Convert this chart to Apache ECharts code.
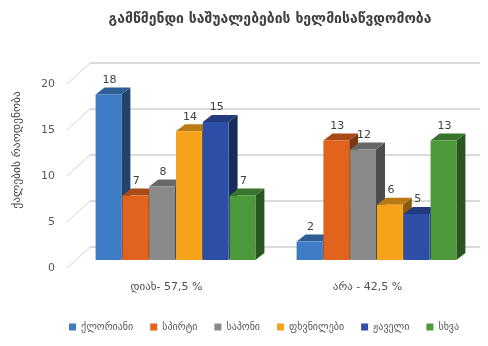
<!DOCTYPE html>
<html>
<head>
<meta charset="utf-8">
<script src="https://cdn.jsdelivr.net/npm/echarts@6/dist/echarts.min.js"></script>
<style>
  html, body { margin: 0; padding: 0; background: #ffffff; }
  #chart { width: 488px; height: 346px; }
</style>
</head>
<body>
<div id="chart"></div>
<script>
// Chart data
const titleText = 'გამწმენდი საშუალებების ხელმისაწვდომობა';
const yAxisTitle = 'ქალების რაოდენობა';
const categories = ['დიახ- 57,5 %', 'არა - 42,5 %'];
const seriesNames = ['ქლორიანი', 'სპირტი', 'საპონი', 'ფხვნილები', 'ჟაველი', 'სხვა'];
const chloreValues = [18, 2];
const spirtValues = [7, 13];
const saponValues = [8, 12];
const powderValues = [14, 6];
const javelValues = [15, 5];
const otherValues = [7, 13];
const yTicks = [0, 5, 10, 15, 20];

const allValues = [chloreValues, spirtValues, saponValues, powderValues, javelValues, otherValues];
const colors = ['#3e7cc6', '#e1631e', '#8a8a8a', '#f7a21b', '#2d4ea6', '#4c9a3c'];

const FONT = 'DejaVu Sans';
const DEPTH_X = 9, DEPTH_Y = -7;       // bar depth offset
const WALL_X = 15, WALL_Y = -13;       // back wall offset
const FRONT_X = -8, FRONT_Y = 8;       // front edge of the floor

function shade(hex, f) {
  const n = parseInt(hex.slice(1), 16);
  const r = Math.round(((n >> 16) & 255) * f);
  const g = Math.round(((n >> 8) & 255) * f);
  const b = Math.round((n & 255) * f);
  return 'rgb(' + r + ',' + g + ',' + b + ')';
}

function barRenderer(idx) {
  const n = allValues.length;
  return function (params, api) {
    const cat = api.value(0);
    const v = api.value(1);
    const base = api.coord([cat, 0]);
    const top = api.coord([cat, v]);
    const band = api.size([1, 0])[0];
    const bw = band * 0.8 / n;
    const x0 = base[0] - band * 0.4 + idx * bw + 0.5;
    const x1 = x0 + bw - 1;
    const yb = base[1], yt = top[1];
    const c = colors[idx];
    return {
      type: 'group',
      children: [
        {
          type: 'polygon',
          shape: { points: [[x1, yt], [x1 + DEPTH_X, yt + DEPTH_Y], [x1 + DEPTH_X, yb + DEPTH_Y], [x1, yb]] },
          style: { fill: shade(c, 0.55) }
        },
        {
          type: 'polygon',
          shape: { points: [[x0, yt], [x1, yt], [x1 + DEPTH_X, yt + DEPTH_Y], [x0 + DEPTH_X, yt + DEPTH_Y]] },
          style: { fill: shade(c, 0.75) }
        },
        {
          type: 'rect',
          shape: { x: x0, y: yt, width: x1 - x0, height: yb - yt },
          style: { fill: c }
        },
        {
          type: 'text',
          z2: 100,
          style: {
            x: (x0 + x1) / 2 + 1,
            y: yt + DEPTH_Y - 2,
            text: String(v),
            align: 'center',
            verticalAlign: 'bottom',
            fill: '#404040',
            font: '11px "' + FONT + '"'
          }
        }
      ]
    };
  };
}

// Back wall gridlines, the slanted lines to the front edge, and the tick labels
function wallRenderer(params, api) {
  const v = api.value(0);
  const y = api.coord([0, v])[1];
  const cs = params.coordSys;
  const left = cs.x, right = cs.x + cs.width;
  return {
    type: 'group',
    children: [
      {
        type: 'line',
        shape: { x1: left + FRONT_X, y1: y + FRONT_Y, x2: left + WALL_X, y2: y + WALL_Y },
        style: { stroke: '#d4d4d4', lineWidth: 1 }
      },
      {
        type: 'line',
        shape: { x1: left + WALL_X, y1: y + WALL_Y, x2: right + 3, y2: y + WALL_Y },
        style: { stroke: '#cfcfcf', lineWidth: 1.5 }
      },
      {
        type: 'text',
        style: {
          x: left + FRONT_X - 12,
          y: y + FRONT_Y,
          text: String(v),
          align: 'right',
          verticalAlign: 'middle',
          fill: '#595959',
          font: '11px "' + FONT + '"'
        }
      }
    ]
  };
}

const series = [{
  type: 'custom',
  name: '__wall',
  renderItem: wallRenderer,
  data: yTicks.map(t => [t]),
  encode: { y: 0 },
  silent: true,
  z: 1
}];
allValues.forEach((vals, i) => {
  series.push({
    type: 'custom',
    name: seriesNames[i],
    renderItem: barRenderer(i),
    itemStyle: { color: colors[i] },
    data: vals.map((v, k) => [k, v]),
    encode: { x: 0, y: 1 },
    z: 2
  });
});

const chart = echarts.init(document.getElementById('chart'), null, { renderer: 'canvas' });
chart.setOption({
  animation: false,
  backgroundColor: '#ffffff',
  color: colors,
  textStyle: { fontFamily: FONT },
  title: {
    text: titleText,
    left: 265,
    textAlign: 'center',
    top: 7,
    textStyle: { fontFamily: FONT, fontSize: 14, fontWeight: 'bold', color: '#404040' }
  },
  grid: { left: 75, right: 11, top: 76, bottom: 86 },
  xAxis: {
    type: 'category',
    data: categories,
    axisLine: { show: false },
    axisTick: { show: false },
    splitLine: { show: false },
    axisLabel: {
      margin: 22,
      padding: [0, 18, 0, 0],
      fontSize: 11,
      color: '#505050',
      fontFamily: FONT
    }
  },
  yAxis: {
    type: 'value',
    min: 0,
    max: 20,
    interval: 5,
    axisLine: { show: false },
    axisTick: { show: false },
    splitLine: { show: false },
    axisLabel: { show: false }
  },
  legend: {
    data: seriesNames,
    bottom: 9,
    left: 64,
    icon: 'rect',
    itemWidth: 7,
    itemHeight: 7,
    itemGap: 17,
    textStyle: { fontSize: 10, color: '#595959', fontFamily: FONT }
  },
  graphic: [{
    type: 'text',
    x: 17,
    y: 150,
    rotation: Math.PI / 2,
    style: {
      text: yAxisTitle,
      align: 'center',
      verticalAlign: 'middle',
      fill: '#404040',
      font: '11.5px "' + FONT + '"'
    }
  }],
  series: series
});
</script>
</body>
</html>
